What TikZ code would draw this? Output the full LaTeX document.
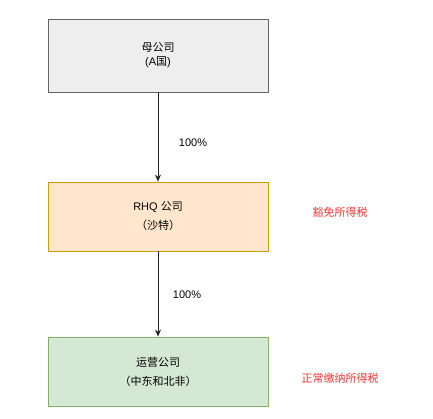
\documentclass[tikz,border=0pt]{standalone}
\usepackage{fontspec}
\setmainfont{Liberation Sans}
\newfontfamily\cjk{Noto Sans CJK SC}
\usetikzlibrary{arrows.meta}
\definecolor{grayfill}{HTML}{EEEEEE}
\definecolor{graydraw}{HTML}{666666}
\definecolor{orangefill}{HTML}{FFE6CC}
\definecolor{orangedraw}{HTML}{D79B00}
\definecolor{greenfill}{HTML}{D5E8D4}
\definecolor{greendraw}{HTML}{82B366}
\definecolor{taxred}{HTML}{FF3333}
\tikzset{
  box/.style={draw, line width=0.8pt, minimum width=220pt, inner sep=0pt, align=center, font=\fontsize{11}{19}\selectfont},
  conn/.style={-{Stealth[length=7pt,width=6pt]}, line width=0.8pt, draw=black!85},
  pct/.style={font=\fontsize{11}{13}\selectfont, inner sep=0pt},
  note/.style={text=taxred, font=\fontsize{11}{13}\selectfont\cjk, inner sep=0pt}
}
\begin{document}
\begin{tikzpicture}[x=1pt,y=1pt]
\useasboundingbox (0,0) rectangle (433,-419);
\node[box, fill=grayfill, draw=graydraw, minimum height=73pt, font=\fontsize{11}{14}\selectfont] (parent) at (158,-55.5) {{\cjk 母公司}\\({A}{\cjk 国})};
\node[box, fill=orangefill, draw=orangedraw, minimum height=69pt] (rhq) at (158,-216.5) {RHQ {\cjk 公司}\\{\cjk （沙特）}};
\node[box, fill=greenfill, draw=greendraw, minimum height=69pt] (ops) at (158,-371.5) {{\cjk 运营公司}\\{\cjk （中东和北非）}};
\draw[conn] (parent) -- (rhq);
\draw[conn] (rhq) -- (ops);
\node[pct] (p1) at (193,-143) {100\%};
\node[pct] (p2) at (187,-295) {100\%};
\node[note] (n1) at (340,-212) {豁免所得税};
\node[note] (n2) at (340,-378) {正常缴纳所得税};
\end{tikzpicture}
\end{document}
